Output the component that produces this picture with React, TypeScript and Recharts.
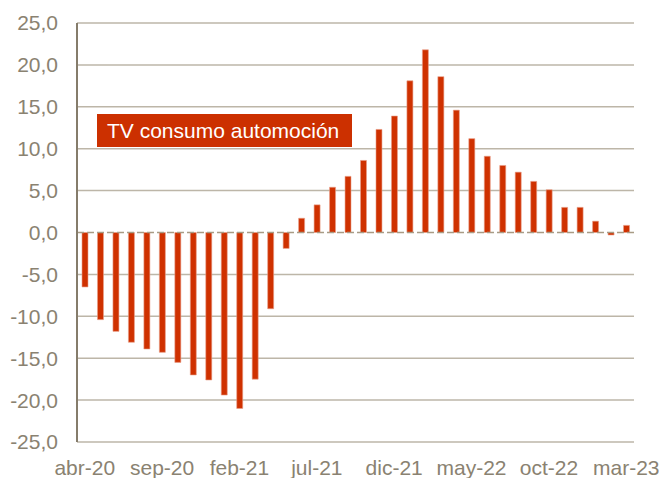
import { BarChart, Bar, XAxis, YAxis, CartesianGrid, ReferenceLine } from "recharts";

const months = [
    "abr-20", "may-20", "jun-20", "jul-20", "ago-20", "sep-20", "oct-20", "nov-20", "dic-20",
    "ene-21", "feb-21", "mar-21", "abr-21", "may-21", "jun-21", "jul-21", "ago-21", "sep-21",
    "oct-21", "nov-21", "dic-21", "ene-22", "feb-22", "mar-22", "abr-22", "may-22", "jun-22",
    "jul-22", "ago-22", "sep-22", "oct-22", "nov-22", "dic-22", "ene-23", "feb-23", "mar-23"
];

const tvValues = [
    -6.5, -10.4, -11.8, -13.1, -13.9, -14.3, -15.5, -17.0, -17.6, -19.4, -21.0, -17.5,
    -9.1, -1.9, 1.7, 3.3, 5.4, 6.7, 8.6, 12.3, 13.9, 18.1, 21.8, 18.6,
    14.6, 11.2, 9.1, 8.0, 7.2, 6.1, 5.1, 3.0, 3.0, 1.35, -0.3, 0.85
];

const yTicks = [-25, -20, -15, -10, -5, 0, 5, 10, 15, 20, 25];
const gridValues = [-25, -20, -15, -10, -5, 5, 10, 15, 20, 25];

const seriesName = "TV consumo automoción";

const chartData = months.map((m, i) => ({ month: m, tv: tvValues[i] }));

const FONT = '"Liberation Sans", Arial, sans-serif';
const TEXT_COLOR = "#8A8271";

export default function App() {
    return (
        <div style={{ position: "absolute", left: 0, top: 0, width: 661, height: 478, background: "#fff", fontFamily: FONT }}>
            <BarChart
                width={661}
                height={478}
                data={chartData}
                margin={{ top: 23, right: 27, left: 0, bottom: 0 }}
                barSize={6}
            >
                <CartesianGrid
                    vertical={false}
                    horizontalValues={gridValues}
                    stroke="#BDB6A8"
                    strokeWidth={1.5}
                />
                <XAxis
                    dataKey="month"
                    interval={4}
                    axisLine={false}
                    tickLine={false}
                    tickSize={0}
                    tickMargin={18}
                    height={36}
                    tick={{ fill: TEXT_COLOR, fontSize: 21, fontFamily: FONT }}
                />
                <YAxis
                    domain={[-25, 25]}
                    ticks={yTicks}
                    width={77}
                    axisLine={{ stroke: "#857C6B", strokeWidth: 2 }}
                    tickLine={false}
                    tickSize={0}
                    tickMargin={19}
                    tickFormatter={(v: number) => v.toFixed(1).replace(".", ",")}
                    tick={{ fill: TEXT_COLOR, fontSize: 21, fontFamily: FONT }}
                />
                <ReferenceLine y={0} stroke="#A89B85" strokeWidth={1.5} strokeDasharray="7 3" />
                <Bar
                    dataKey="tv"
                    name={seriesName}
                    fill="#CF3100"
                    stroke="#E9A08A"
                    strokeWidth={0.6}
                    isAnimationActive={false}
                />
            </BarChart>
            {/* Label box */}
            <div
                style={{
                    position: "absolute",
                    left: 97,
                    top: 114,
                    width: 255,
                    height: 33,
                    background: "#CC3000",
                    color: "#fff",
                    fontSize: 21,
                    lineHeight: "33px",
                    paddingLeft: 10,
                    boxSizing: "border-box",
                    whiteSpace: "nowrap",
                }}
            >
                {seriesName}
            </div>
        </div>
    );
}
